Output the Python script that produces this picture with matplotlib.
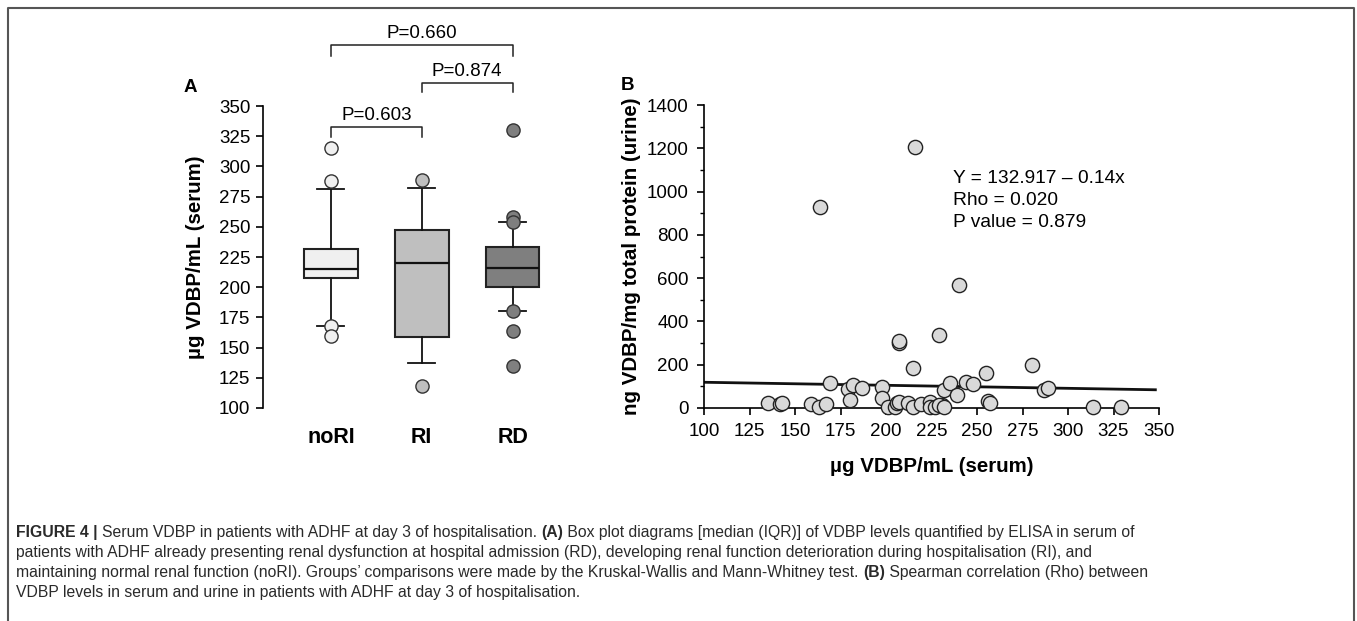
import numpy as np
import matplotlib
matplotlib.use("Agg")
import matplotlib.pyplot as plt
from matplotlib.ticker import MultipleLocator

plt.rcParams['font.family'] = ['Liberation Sans', 'DejaVu Sans']

# ---------- data: panel A (box plot stats) ----------
groups = ["noRI", "RI", "RD"]
q1 = [208, 159, 200]
med = [215, 220, 216]
q3 = [232, 247, 233]
whis_lo = [168, 137, 180]
whis_hi = [281, 282, 254]
fliers = [[315, 288, 168, 160], [289, 118], [330, 258, 254, 180, 164, 135]]
box_colors = ["#f0f0f0", "#bfbfbf", "#7f7f7f"]

pairs = [(0, 1), (1, 2), (0, 2)]
p_texts = ["P=0.603", "P=0.874", "P=0.660"]

# ---------- data: panel B (scatter) ----------
serum = [135, 142, 143, 159, 163, 167, 164, 169, 179, 180, 182, 187, 198, 198,
         201, 205, 206, 207, 207, 207, 212, 215, 215, 216, 219, 224, 224, 227,
         229, 231, 232, 229, 232, 235, 239, 240, 244, 248, 255, 256, 257, 280,
         287, 289, 314, 329]
urine = [22, 17, 25, 17, 6, 17, 930, 117, 86, 37, 106, 94, 98, 45,
         6, 6, 22, 29, 299, 310, 22, 6, 183, 1207, 18, 29, 6, 6,
         337, 14, 83, 14, 6, 117, 60, 570, 122, 109, 160, 32, 22, 199,
         83, 91, 6, 6]
intercept, slope = 132.917, -0.14
fit_x = [100, 348]
stats_lines = ["Y = 132.917 \u2013 0.14x", "Rho = 0.020", "P value = 0.879"]

fig = plt.figure(figsize=(13.57, 6.21), dpi=100)

# ---------- panel A ----------
axA = fig.add_axes([263/1357, 1-408/621, 295/1357, 302/621])
for i in range(3):
    st = dict(med=med[i], q1=q1[i], q3=q3[i], whislo=whis_lo[i], whishi=whis_hi[i],
              fliers=fliers[i])
    axA.bxp([st], positions=[i + 1], widths=0.59, capwidths=0.3, patch_artist=True,
            boxprops=dict(facecolor=box_colors[i], edgecolor="#222222", linewidth=1.5),
            medianprops=dict(color="#111111", linewidth=1.6),
            whiskerprops=dict(color="#111111", linewidth=1.3),
            capprops=dict(color="#111111", linewidth=1.3),
            flierprops=dict(marker="o", markersize=9.5, markerfacecolor=box_colors[i],
                            markeredgecolor="#333333", markeredgewidth=1.0))
axA.set_xlim(0.253, 3.5)
axA.set_ylim(100, 350)
axA.yaxis.set_major_locator(MultipleLocator(25))
for s in ["top", "right", "bottom"]:
    axA.spines[s].set_visible(False)
axA.spines["left"].set_linewidth(1.2)
axA.tick_params(axis="y", direction="out", length=5, width=1.2, labelsize=13.5, pad=4)
axA.tick_params(axis="x", length=0, labelsize=15.5, pad=14)
axA.set_xticks([1, 2, 3])
axA.set_xticklabels(groups, fontweight="bold")
axA.set_ylabel("\u00b5g VDBP/mL (serum)", fontsize=14.8, fontweight="bold", labelpad=10)

br_y = [333, 369, 400.5]
br_drop = [8.5, 7.5, 9.5]
for (a, b), txt, y, d in zip(pairs, p_texts, br_y, br_drop):
    axA.plot([a + 1, a + 1, b + 1, b + 1], [y - d, y, y, y - d], color="#222222",
             lw=1.1, clip_on=False)
    axA.text((a + b) / 2 + 1, y + 2.5, txt, ha="center", va="bottom", fontsize=13.5,
             clip_on=False)
fig.text(190/1357, 1-88/621, "A", fontsize=13.5, fontweight="bold", ha="center", va="center")

# ---------- panel B ----------
axB = fig.add_axes([704/1357, 1-408/621, 455/1357, 303/621])
axB.scatter(serum, urine, s=105, facecolor="#d9d9d9", edgecolor="#222222", linewidth=1.0,
            zorder=3, clip_on=False)
fx = np.array(fit_x, dtype=float)
axB.plot(fx, intercept + slope * fx, color="#111111", lw=2.0, zorder=2)
axB.set_xlim(100, 350)
axB.set_ylim(0, 1400)
axB.xaxis.set_major_locator(MultipleLocator(25))
axB.yaxis.set_major_locator(MultipleLocator(200))
axB.yaxis.set_minor_locator(MultipleLocator(100))
for s in ["top", "right"]:
    axB.spines[s].set_visible(False)
axB.spines["left"].set_linewidth(1.2)
axB.spines["bottom"].set_linewidth(1.2)
axB.tick_params(axis="both", which="major", direction="out", length=5, width=1.2,
                labelsize=13.5, pad=6)
axB.tick_params(axis="y", which="minor", direction="out", length=3, width=1.0)
axB.set_xlabel("\u00b5g VDBP/mL (serum)", fontsize=14.8, fontweight="bold", labelpad=12)
axB.set_ylabel("ng VDBP/mg total protein (urine)", fontsize=14.8, fontweight="bold",
               labelpad=4)
for k, line in enumerate(stats_lines):
    axB.text(0.547, 0.757 - k * 0.072, line, transform=axB.transAxes, fontsize=13.8,
             ha="left", va="center")
fig.text(627/1357, 1-86/621, "B", fontsize=13.5, fontweight="bold", ha="center", va="center")

# ---------- frame ----------
fig.add_artist(plt.Line2D([8/1357, 8/1357, 1354/1357, 1354/1357], [0, 1-8/621, 1-8/621, 0],
                          transform=fig.transFigure, color="#555555", lw=1.5))

# ---------- caption ----------
cap_lines = [
    [("FIGURE 4 | ", "bold"), ("Serum VDBP in patients with ADHF at day 3 of hospitalisation. ", "normal"),
     ("(A)", "bold"), (" Box plot diagrams [median (IQR)] of VDBP levels quantified by ELISA in serum of", "normal")],
    [("patients with ADHF already presenting renal dysfunction at hospital admission (RD), developing renal function deterioration during hospitalisation (RI), and", "normal")],
    [("maintaining normal renal function (noRI). Groups\u2019 comparisons were made by the Kruskal-Wallis and Mann-Whitney test. ", "normal"),
     ("(B)", "bold"), (" Spearman correlation (Rho) between", "normal")],
    [("VDBP levels in serum and urine in patients with ADHF at day 3 of hospitalisation.", "normal")],
]
renderer = fig.canvas.get_renderer()
for k, runs in enumerate(cap_lines):
    x = 16
    y = 1 - (532 + 20 * k) / 621
    for txt, wt in runs:
        t = fig.text(x / 1357, y, txt, fontsize=11.3, fontweight=wt,
                     ha="left", va="center", color="#2a2a2a")
        x += t.get_window_extent(renderer).width

fig.savefig("out.png", dpi=100)
